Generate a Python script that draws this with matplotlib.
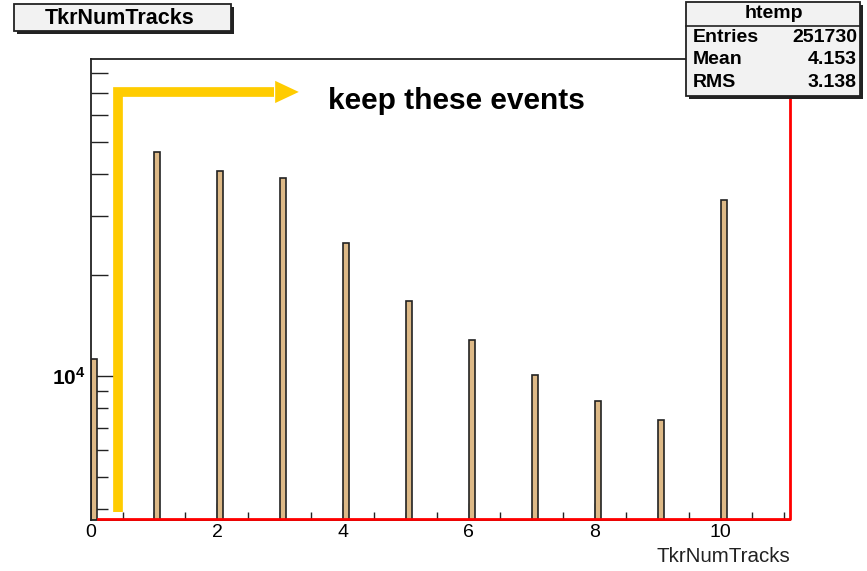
import numpy as np
import matplotlib
matplotlib.use('Agg')
import matplotlib.pyplot as plt
from matplotlib.ticker import MultipleLocator, LogLocator, NullFormatter, FuncFormatter
from matplotlib.patches import Rectangle

plt.rcParams['font.family'] = ['Liberation Sans', 'DejaVu Sans']
plt.rcParams['mathtext.fontset'] = 'custom'
plt.rcParams['mathtext.rm'] = 'Liberation Sans'
plt.rcParams['mathtext.bf'] = 'Liberation Sans:bold'

# TkrNumTracks histogram, one narrow bin per integer value
ntracks = [0, 1, 2, 3, 4, 5, 6, 7, 8, 9, 10]
counts = [11200, 46700, 40900, 39000, 24950, 16740, 12810, 10070, 8420, 7400, 33540]
stats_names = ['Entries', 'Mean', 'RMS']
stats_vals = ['251730', '4.153', '3.138']
hist_name = 'htemp'
var_name = 'TkrNumTracks'
note = 'keep these events'

fig = plt.figure(figsize=(8.67, 5.71), dpi=100)
ax = fig.add_axes([0.105, 0.0893, 0.806, 0.8074])

ax.bar(ntracks, counts, width=0.1, align='edge', color='#ddb987',
       edgecolor='#222222', linewidth=1.2, zorder=2)
ax.set_yscale('log')
ax.set_xlim(0, 11.1)
ax.set_ylim(3715, 88300)

# histogram outline in red along the bottom and right edge
ax.plot([0.01, 1, 1], [0.003, 0.003, 1], color='red', lw=2,
        transform=ax.transAxes, clip_on=False, zorder=5)

ax.xaxis.set_major_locator(MultipleLocator(2))
ax.xaxis.set_minor_locator(MultipleLocator(0.5))
ax.yaxis.set_major_locator(LogLocator(base=10))
ax.yaxis.set_minor_locator(LogLocator(base=10, subs=np.arange(2, 10)))
ax.yaxis.set_minor_formatter(NullFormatter())
ax.yaxis.set_major_formatter(FuncFormatter(
    lambda v, p: r'$\mathbf{10^{%d}}$' % round(np.log10(v))))
ax.tick_params(which='both', direction='in', top=False, right=False,
               labelsize=14, color='#222222')
ax.tick_params(axis='x', which='major', length=12, width=1, pad=3)
ax.tick_params(axis='x', which='minor', length=6, width=1)
ax.tick_params(axis='y', which='major', length=20, width=1, pad=4, labelsize=15)
ax.tick_params(axis='y', which='minor', length=12, width=1)
for s in ['left', 'top', 'bottom']:
    ax.spines[s].set_color('#222222')
    ax.spines[s].set_linewidth(1.3)
ax.spines['right'].set_visible(False)

ax.set_xlabel(var_name, fontsize=14.8, loc='right', color='#222222', labelpad=4)

# yellow arrow marking the kept region
ax.plot([0.43, 0.43, 2.9], [3930, 70400, 70400], color='#ffcc00', lw=7,
        solid_joinstyle='miter', solid_capstyle='butt', zorder=4)
ax.annotate('', xy=(3.3, 70400), xytext=(2.85, 70400),
            arrowprops=dict(arrowstyle='-|>,head_length=1.7,head_width=0.8',
                            color='#ffcc00', lw=0, shrinkA=0, shrinkB=0), zorder=4)
ax.text(3.76, 66200, note, fontsize=21.5, fontweight='bold', va='center', ha='left')

# title box with shadow
def box(x0, y0, w, h):
    fig.patches.append(Rectangle((x0 + 3 / 867, y0 - 3 / 571), w, h, transform=fig.transFigure,
                                 facecolor='#222222', edgecolor='none', zorder=8))
    fig.patches.append(Rectangle((x0, y0), w, h, transform=fig.transFigure,
                                 facecolor='#f2f2f2', edgecolor='#222222', lw=1.3, zorder=9))

box(14 / 867, 1 - 31 / 571, 217 / 867, 27 / 571)
fig.text(120 / 867, 1 - 18 / 571, var_name, fontsize=15.5, fontweight='bold',
         ha='center', va='center', zorder=10)

# stats box
box(686 / 867, 1 - 96 / 571, 174 / 867, 94 / 571)
fig.text(774 / 867, 1 - 13 / 571, hist_name, fontsize=14, fontweight='bold',
         ha='center', va='center', zorder=10)
fig.lines.append(plt.Line2D([686 / 867, 860 / 867], [1 - 26 / 571, 1 - 26 / 571],
                            transform=fig.transFigure, color='#222222', lw=1.2, zorder=10))
for i, (n, v) in enumerate(zip(stats_names, stats_vals)):
    yy = 1 - (37 + 23 * i) / 571
    fig.text(693 / 867, yy, n, fontsize=14, fontweight='bold', ha='left', va='center', zorder=10)
    fig.text(857 / 867, yy, v, fontsize=14, fontweight='bold', ha='right', va='center', zorder=10)

fig.savefig('out.png', dpi=100)
